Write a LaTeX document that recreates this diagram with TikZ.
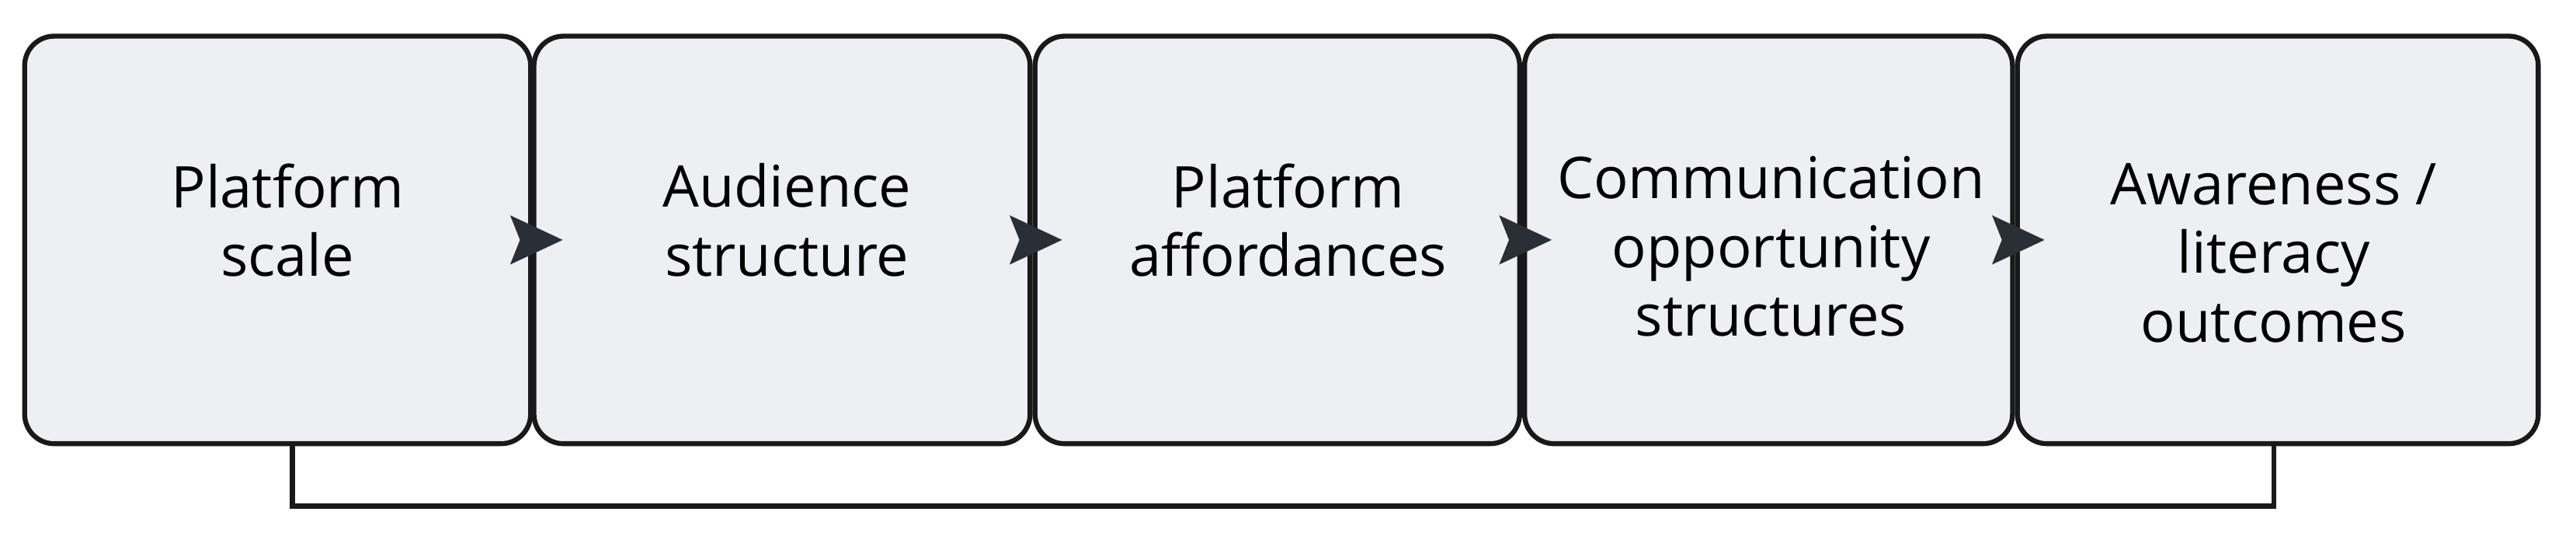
\documentclass[tikz,border=0pt]{standalone}
\usepackage{fontspec}
\setmainfont{Open Sans}
\usetikzlibrary{arrows.meta}
\definecolor{boxfill}{HTML}{EEEFF2}
\definecolor{tipcol}{HTML}{2A2F36}
\begin{document}
\begin{tikzpicture}[x=1pt,y=1pt,
  stage/.style={draw=black!90,line width=3,fill=boxfill,rounded corners=18,inner sep=0},
  label/.style={font=\fontsize{35}{42}\selectfont,align=center},
  link/.style={draw=black!90,line width=3}]
\useasboundingbox (0,0) rectangle (1568,330);
\node[stage,minimum width=308,minimum height=248] (b1) at (169,184) {};
\node[stage,minimum width=302,minimum height=248] (b2) at (476,184) {};
\node[stage,minimum width=295,minimum height=248] (b3) at (777.5,184) {};
\node[stage,minimum width=297,minimum height=248] (b4) at (1076.5,184) {};
\node[stage,minimum width=317,minimum height=248] (b5) at (1386.5,184) {};
\node[label] (t1) at (175,196) {Platform\\scale};
\node[label] (t2) at (479,196) {Audience\\structure};
\node[label] (t3) at (784,196) {Platform\\affordances};
\node[label] (t4) at (1078,180) {Communication\\opportunity\\structures};
\node[label] (t5) at (1384,176) {Awareness /\\literacy\\outcomes};
\foreach \a in {b1,b2,b3,b4}{
  \fill[tipcol] ([xshift=-14,yshift=15]\a.east) -- ([xshift=18]\a.east) -- ([xshift=-14,yshift=-15]\a.east) -- ([xshift=-8]\a.east) -- cycle;
}
\coordinate (c1) at (178,22);
\coordinate (c2) at (1384,22);
\draw[link] (b1.south -| c1) -- (c1) -- (c2) -- (b5.south -| c2);
\end{tikzpicture}
\end{document}
